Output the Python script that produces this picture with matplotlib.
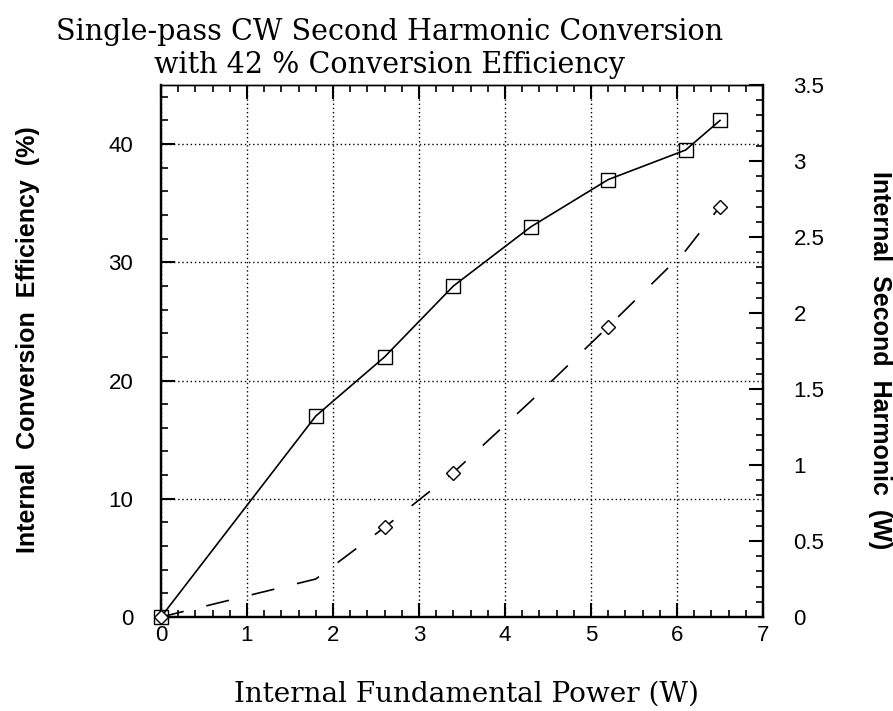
import matplotlib
matplotlib.use("Agg")
import matplotlib.pyplot as plt
from matplotlib.ticker import MultipleLocator, FuncFormatter

# Data
fund_power = [0.0, 1.8, 2.6, 3.4, 4.3, 5.2, 6.1, 6.5]
efficiency = [0.0, 17.0, 22.0, 28.0, 33.0, 37.0, 39.5, 42.0]
sh_power = [0.0, 0.25, 0.59, 0.95, 1.42, 1.91, 2.41, 2.70]
sh_marker_x = [0.0, 2.6, 3.4, 5.2, 6.5]
sh_marker_y = [0.0, 0.59, 0.95, 1.91, 2.70]

title_lines = ["Single-pass CW Second Harmonic Conversion",
               "with 42 % Conversion Efficiency"]
xlabel = "Internal Fundamental Power (W)"
ylabel_left = "Internal  Conversion  Efficiency  (%)"
ylabel_right = "Internal  Second  Harmonic  (W)"

W, H = 893, 711
fig = plt.figure(figsize=(W / 100, H / 100), dpi=100)
L, R, T, B = 161, 763, 85, 617
ax = fig.add_axes([L / W, 1 - B / H, (R - L) / W, (B - T) / H])
ax2 = ax.twinx()

sans = ["Liberation Sans", "DejaVu Sans"]
serif = ["DejaVu Serif", "Liberation Serif"]

ax.set_xlim(0, 7)
ax.set_ylim(0, 45)
ax2.set_ylim(0, 3.5)

ax.grid(True, which="major", color="black", linestyle=(0, (1, 2)), linewidth=1.0)
ax.set_axisbelow(True)

ax.plot(fund_power, efficiency, color="black", linewidth=1.2,
        marker="s", markersize=10, markerfacecolor="none",
        markeredgecolor="black", markeredgewidth=1.0, zorder=3, clip_on=False)
ax2.plot(fund_power, sh_power, color="black", linewidth=1.2,
         dashes=(14, 14), zorder=3, clip_on=False)
ax2.plot(sh_marker_x, sh_marker_y, linestyle="none", marker="D", markersize=7,
         markerfacecolor="white", markeredgecolor="black", markeredgewidth=1.0,
         zorder=4, clip_on=False)

ax.xaxis.set_major_locator(MultipleLocator(1))
ax.xaxis.set_minor_locator(MultipleLocator(0.2))
ax.yaxis.set_major_locator(MultipleLocator(10))
ax.yaxis.set_minor_locator(MultipleLocator(2))
ax2.yaxis.set_major_locator(MultipleLocator(0.5))
ax2.yaxis.set_minor_locator(MultipleLocator(0.1))
ax2.yaxis.set_major_formatter(FuncFormatter(lambda v, p: f"{v:g}"))

ax.tick_params(axis="x", which="both", direction="in", top=True, bottom=True,
               labelsize=16, pad=6)
ax.tick_params(axis="y", which="both", direction="in", left=True, right=False,
               labelsize=16, pad=20)
ax2.tick_params(axis="y", which="both", direction="in", right=True,
                labelsize=16, pad=22)
for a in (ax, ax2):
    a.tick_params(which="major", length=10, width=1.5)
    a.tick_params(which="minor", length=5, width=1.2)
    for lab in a.get_xticklabels() + a.get_yticklabels():
        lab.set_family(sans)

for a in (ax, ax2):
    for s in ("left", "bottom", "right"):
        a.spines[s].set_linewidth(1.6)
    a.spines["top"].set_linewidth(1.0)
    a.spines["top"].set_linestyle((0, (1, 1)))

t1 = fig.text(390 / W, 1 - 40 / H, title_lines[0], ha="center", va="baseline",
              fontsize=20, family=serif)
t2 = fig.text(390 / W, 1 - 73 / H, title_lines[1], ha="center", va="baseline",
              fontsize=20, family=serif)
tx = fig.text(466 / W, 1 - 702 / H, xlabel, ha="center", va="baseline",
              fontsize=20, family=serif)
fig.text(28 / W, 1 - 340 / H, ylabel_left, ha="center", va="center",
         rotation=90, fontsize=18, fontweight="bold", family=sans)
fig.text(880 / W, 1 - 360 / H, ylabel_right, ha="center", va="center",
         rotation=-90, fontsize=18, fontweight="bold", family=sans)

# scale serif texts to the measured widths of the reference
fig.canvas.draw()
r = fig.canvas.get_renderer()
w1 = t1.get_window_extent(r).width
s_title = 20 * 666 / w1
t1.set_fontsize(s_title)
t2.set_fontsize(s_title)
wx = tx.get_window_extent(r).width
tx.set_fontsize(20 * 465 / wx)

fig.savefig("out.png", dpi=100)
